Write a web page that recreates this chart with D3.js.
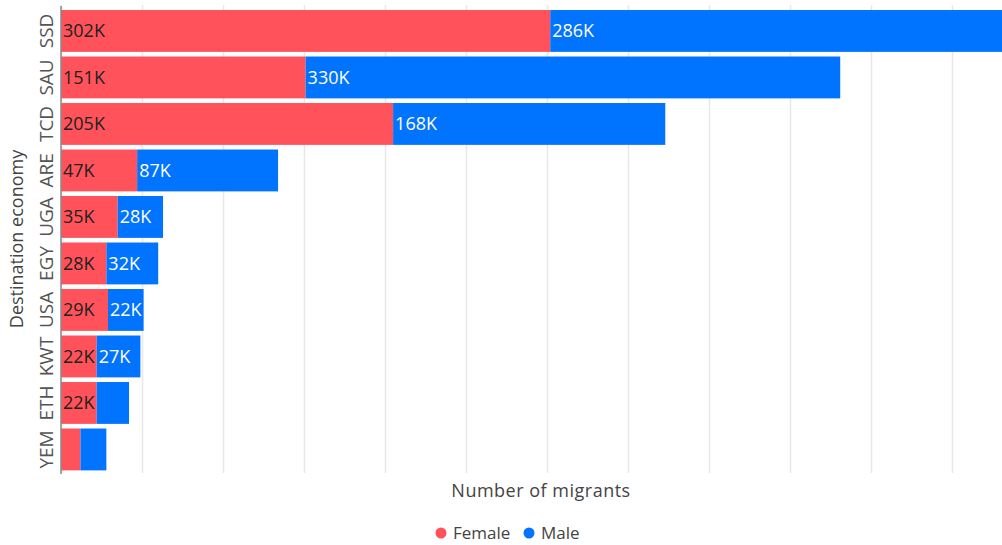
<!DOCTYPE html>
<meta charset="utf-8">
<script src="https://d3js.org/d3.v7.min.js"></script>
<style>
  body { margin: 0; background: #fff; }
  text { font-family: 'Open Sans', Lato, sans-serif; }
  .grid line { stroke: #e8e8e8; stroke-width: 1.5; }
  .grid .domain { display: none; }
</style>
<div id="chart"></div>
<script>
// data
const countries = ["SSD", "SAU", "TCD", "ARE", "UGA", "EGY", "USA", "KWT", "ETH", "YEM"];
const female = [302000, 151000, 205000, 47000, 35000, 28000, 29000, 22000, 22000, 12000];
const male   = [286000, 330000, 168000, 87000, 28000, 32000, 22000, 27000, 20000, 16000];
const seriesNames = ["Female", "Male"];
const colors = ["#ff525a", "#0073ff"];

const W = 1002, H = 545;
const svg = d3.select("#chart").append("svg")
    .attr("width", W).attr("height", H);

// x: 50K every 81px, the plot runs off the right edge
const x = d3.scaleLinear()
    .domain([0, 600000])
    .range([61, 61 + 12 * 81]);

const y = d3.scaleBand()
    .domain(countries)
    .range([7.7, 472.7])
    .paddingInner(0.1)
    .paddingOuter(0.05);

// gridlines
svg.append("g")
    .attr("class", "grid")
    .attr("transform", "translate(0,5)")
    .call(d3.axisBottom(x).ticks(12).tickSize(468).tickFormat(""));

const rows = countries.map((c, i) => ({ c: c, f: female[i], m: male[i] }));

const g = svg.append("g");
rows.forEach(d => {
  const parts = [
    { key: 0, x0: 0, x1: d.f, v: d.f },
    { key: 1, x0: d.f, x1: d.f + d.m, v: d.m }
  ];
  parts.forEach(p => {
    g.append("rect")
      .attr("x", x(p.x0))
      .attr("y", y(d.c))
      .attr("width", x(p.x1) - x(p.x0))
      .attr("height", y.bandwidth())
      .attr("fill", colors[p.key]);
    if (p.v >= 22000) {
      g.append("text")
        .attr("x", x(p.x0) + 2)
        .attr("y", y(d.c) + y.bandwidth() / 2)
        .attr("dy", "0.36em")
        .attr("font-size", 18)
        .attr("fill", p.key === 0 ? "#222" : "#fff")
        .text(Math.round(p.v / 1000) + "K");
    }
  });
});

// left axis line
svg.append("line")
    .attr("x1", 61).attr("x2", 61)
    .attr("y1", 6).attr("y2", 474)
    .attr("stroke", "#8a8a8a").attr("stroke-width", 1.5);

// category labels, rotated
countries.forEach(c => {
  svg.append("text")
    .attr("transform", `translate(53,${y(c) + y.bandwidth() / 2}) rotate(-90)`)
    .attr("text-anchor", "middle")
    .attr("font-size", 19)
    .attr("fill", "#555")
    .text(c);
});

svg.append("text")
    .attr("transform", "translate(23,239) rotate(-90)")
    .attr("text-anchor", "middle")
    .attr("font-size", 18)
    .attr("fill", "#444")
    .text("Destination economy");

svg.append("text")
    .attr("x", 541).attr("y", 497)
    .attr("text-anchor", "middle")
    .attr("font-size", 18)
    .attr("letter-spacing", 0.5)
    .attr("fill", "#444")
    .text("Number of migrants");

// legend
const legX = [441, 529];
seriesNames.forEach((s, i) => {
  svg.append("circle")
    .attr("cx", legX[i]).attr("cy", 533).attr("r", 5.5)
    .attr("fill", colors[i]);
  svg.append("text")
    .attr("x", legX[i] + 12).attr("y", 533)
    .attr("dy", "0.36em")
    .attr("font-size", 17)
    .attr("fill", "#444")
    .text(s);
});
</script>
